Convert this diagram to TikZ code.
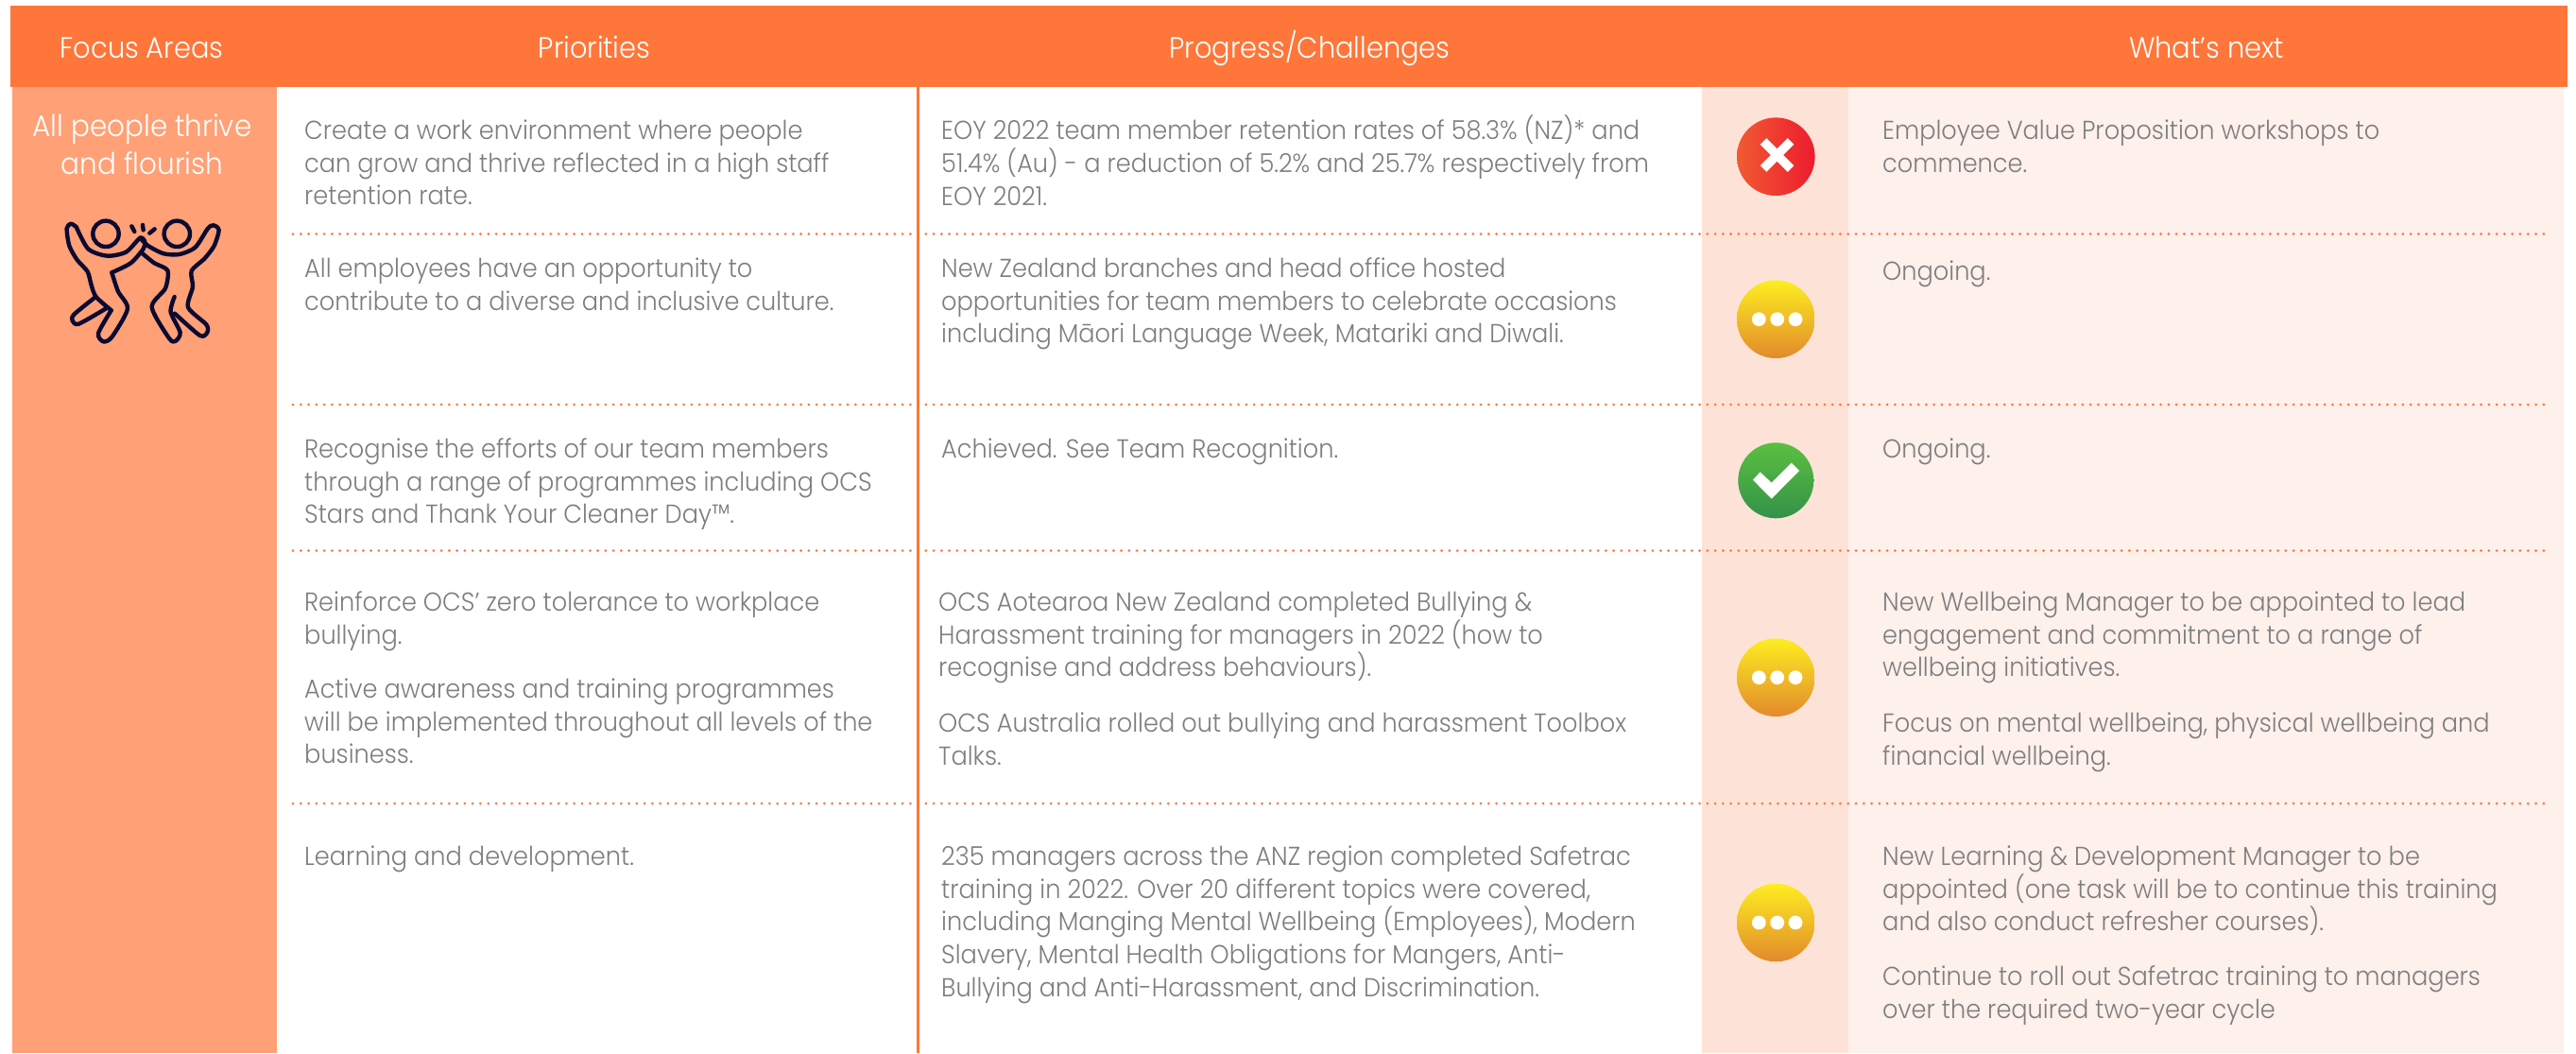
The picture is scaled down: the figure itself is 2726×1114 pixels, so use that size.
\documentclass[tikz,border=0pt]{standalone}
\usepackage{fontspec}
\setmainfont{Poppins}[UprightFont=* Light,FakeStretch=0.932]
\definecolor{hdr}{HTML}{FF763A}
\definecolor{leftcol}{HTML}{FFA076}
\definecolor{beige}{HTML}{FDE3D7}
\definecolor{lightcol}{HTML}{FEF0EB}
\definecolor{bodygrey}{HTML}{7E7E7E}
\definecolor{navy}{HTML}{0A0A32}
\newcommand\fl{\rule{0pt}{25pt}}
\tikzset{
  bodytext/.style={anchor=north west,inner sep=0pt,align=left,text=bodygrey,font=\fontsize{27.5}{34.8}\selectfont},
  headtext/.style={anchor=base,inner sep=0pt,text=white,font=\fontsize{31}{40}\selectfont},
  focustext/.style={anchor=base,inner sep=0pt,text=white,font=\fontsize{31.6}{40}\selectfont},
  dotline/.style={draw=hdr,line width=3pt,line cap=round,dash pattern=on 0pt off 8.27pt},
  statusdot/.style={circle,minimum size=#1,inner sep=0pt,draw=none},
  redstate/.style={statusdot=82.6pt,left color=red1,right color=red2},
  yellowstate/.style={statusdot=82.6pt,top color=yel1,bottom color=yel2},
  greenstate/.style={statusdot=80pt,top color=grn1,bottom color=grn2},
  whitedot/.style={circle,fill=white,minimum size=14.8pt,inner sep=0pt},
  iconline/.style={draw=navy,line width=4.4pt,line join=round,line cap=round}
}
\definecolor{red1}{HTML}{F15A33}
\definecolor{red2}{HTML}{ED1C2E}
\definecolor{yel1}{HTML}{FDEE21}
\definecolor{yel2}{HTML}{E28A2B}
\definecolor{grn1}{HTML}{5BBF3F}
\definecolor{grn2}{HTML}{33924A}
\begin{document}
\begin{tikzpicture}[x=1pt,y=-1pt]
\useasboundingbox (0,0) rectangle (2726,1114);
\fill[white] (0,0) rectangle (2726,1114);
% bands
\fill[leftcol] (13,92) rectangle (292.5,1114);
\fill[beige] (1801,92) rectangle (1956,1114);
\fill[lightcol] (1956,92) rectangle (2713,1114);
\fill[hdr] (11,6) rectangle (2717,92);
\fill[hdr] (970,92) rectangle (972.6,1114);
% header
\node[headtext] (h1) at (150,61) {Focus Areas};
\node[headtext] (h2) at (629,61) {Priorities};
\node[headtext] (h3) at (1386,61) {Progress/Challenges};
\node[headtext] (h4) at (2335,61) {What’s next};
\node[focustext] (f1) at (150.5,144) {All people thrive};
\node[focustext] (f2) at (150.5,184) {and flourish};
% dotted rules
\foreach \n/\yy in {a/247.5,b/428,c/582.5,d/850}{
  \coordinate (\n l) at (310,\yy);
  \coordinate (\n r) at (2695,\yy);
  \draw[dotline] (\n l) -- (\n r);
}
% priorities
\node[bodytext] (p1) at (322,122) {\fl Create a work environment where people\\can grow and thrive reflected in a high staff\\retention rate.};
\node[bodytext] (p2) at (322,268) {\fl All employees have an opportunity to\\contribute to a diverse and inclusive culture.};
\node[bodytext] (p3) at (322,459) {\fl Recognise the efforts of our team members\\through a range of programmes including OCS\\Stars and Thank Your Cleaner Day™.};
\node[bodytext] (p4a) at (322,621) {\fl Reinforce OCS’ zero tolerance to workplace\\bullying.};
\node[bodytext] (p4b) at (322,713) {\fl Active awareness and training programmes\\will be implemented throughout all levels of the\\business.};
\node[bodytext] (p5) at (322,890) {\fl Learning and development.};
% progress
\node[bodytext] (g1) at (996,122) {\fl EOY 2022 team member retention rates of 58.3\% (NZ)* and\\51.4\% (Au) - a reduction of 5.2\% and 25.7\% respectively from\\EOY 2021.};
\node[bodytext] (g2) at (996,268) {\fl New Zealand branches and head office hosted\\opportunities for team members to celebrate occasions\\including Māori Language Week, Matariki and Diwali.};
\node[bodytext] (g3) at (996,459) {\fl Achieved. See Team Recognition.};
\node[bodytext] (g4a) at (993,621) {\fl OCS Aotearoa New Zealand completed Bullying \&\\Harassment training for managers in 2022 (how to\\recognise and address behaviours).};
\node[bodytext] (g4b) at (993,749) {\fl OCS Australia rolled out bullying and harassment Toolbox\\Talks.};
\node[bodytext] (g5) at (996,890) {\fl 235 managers across the ANZ region completed Safetrac\\training in 2022. Over 20 different topics were covered,\\including Manging Mental Wellbeing (Employees), Modern\\Slavery, Mental Health Obligations for Mangers, Anti-\\Bullying and Anti-Harassment, and Discrimination.};
% next
\node[bodytext] (n1) at (1992,122) {\fl Employee Value Proposition workshops to\\commence.};
\node[bodytext] (n2) at (1992,271) {\fl Ongoing.};
\node[bodytext] (n3) at (1992,459) {\fl Ongoing.};
\node[bodytext] (n4a) at (1992,621) {\fl New Wellbeing Manager to be appointed to lead\\engagement and commitment to a range of\\wellbeing initiatives.};
\node[bodytext] (n4b) at (1992,749) {\fl Focus on mental wellbeing, physical wellbeing and\\financial wellbeing.};
\node[bodytext] (n5a) at (1992,890) {\fl New Learning \& Development Manager to be\\appointed (one task will be to continue this training\\and also conduct refresher courses).};
\node[bodytext] (n5b) at (1992,1017) {\fl Continue to roll out Safetrac training to managers\\over the required two-year cycle};
% status circles
\node[redstate] (s1) at (1879.3,165.7) {};
\draw[white,line width=9.5pt] (1866,149.5) -- (1895,178.5) (1895,149.5) -- (1866,178.5);
\foreach \nm/\yy in {s2/337.7,s4/716.7,s5/976}{
  \node[yellowstate] (\nm) at (1879.3,\yy) {};
  \node[whitedot] (\nm a) at (1861.3,\yy) {};
  \node[whitedot] (\nm b) at (1880.7,\yy) {};
  \node[whitedot] (\nm c) at (1900,\yy) {};
}
\node[greenstate] (s3) at (1879.3,508.3) {};
\begin{scope}[shift={(1780,440)},x=0.3333pt,y=-0.3333pt]
\fill[white] (225,203) -- (248,178) -- (284,212) -- (347,149) -- (372,174) -- (284,263) -- cycle;
\end{scope}
% icon
\begin{scope}[shift={(50,210)},x=0.3333pt,y=-0.3333pt]
\draw[iconline] (186,112) circle[radius=13.7pt];
\draw[iconline] (412,112) circle[radius=13.7pt];
\draw[iconline] (268,88) -- (277,105) (303,84) -- (305,100) (341,97) -- (325,110);
\draw[iconline] plot[smooth,tension=0.45] coordinates {(92,90) (75,80) (62,95) (70,150) (95,195) (128,232) (140,275) (155,312) (203,355)};
\draw[iconline] plot[smooth,tension=0.45] coordinates {(150,315) (85,368) (80,388) (100,398) (185,350)};
\draw[iconline] plot[smooth,tension=0.45] coordinates {(203,355) (162,428) (178,454) (205,440) (255,350) (225,295) (205,235)};
\draw[iconline] plot[smooth,tension=0.45] coordinates {(205,235) (265,205) (305,160) (310,138) (295,125) (250,170) (190,182) (130,160) (92,90)};
\draw[iconline] plot[smooth,tension=0.45] coordinates {(295,125) (320,150) (370,175) (420,177) (470,155) (510,95) (528,85) (545,100) (530,150) (500,190) (458,230) (462,280) (447,345) (505,400) (508,425) (485,435) (405,365)};
\draw[iconline] plot[smooth,tension=0.45] coordinates {(404,312) (392,360) (422,425) (408,452) (388,445) (332,345) (375,285) (382,228) (340,205) (303,175)};
\end{scope}
\end{tikzpicture}
\end{document}
